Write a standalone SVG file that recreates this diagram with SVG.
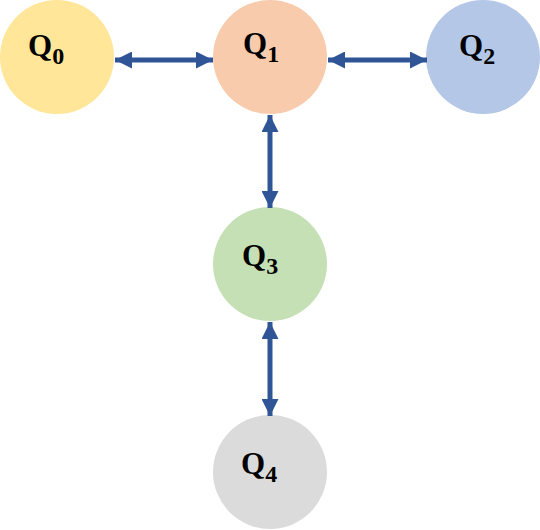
<svg xmlns="http://www.w3.org/2000/svg" width="540" height="530" viewBox="0 0 540 530">
<defs>
<marker id="ah" viewBox="0 0 17 17" refX="17" refY="8.5" markerWidth="17" markerHeight="17" markerUnits="userSpaceOnUse" orient="auto-start-reverse">
<path d="M0,0 L17,8.5 L0,17 Z" fill="#2F5597"/>
</marker>
<style>
.lbl{font-family:"Liberation Serif","DejaVu Serif",serif;font-weight:bold;font-size:31px;fill:#000}
.sub{font-size:24px}
.conn line{stroke:#2F5597;stroke-width:5;marker-start:url(#ah);marker-end:url(#ah)}
</style>
</defs>
<rect width="540" height="530" fill="#fff"/>
<g id="Q0"><circle cx="57" cy="57" r="57" fill="#FFE699"/><text class="lbl" x="28" y="56">Q<tspan class="sub" dy="8">0</tspan></text></g>
<g id="Q1"><circle cx="270" cy="57" r="57" fill="#F8CBAD"/><text class="lbl" x="243" y="54">Q<tspan class="sub" dy="8">1</tspan></text></g>
<g id="Q2"><circle cx="483" cy="57" r="57" fill="#B4C7E7"/><text class="lbl" x="459" y="56">Q<tspan class="sub" dy="8">2</tspan></text></g>
<g id="Q3"><circle cx="270" cy="264" r="57" fill="#C5E0B4"/><text class="lbl" x="242" y="266">Q<tspan class="sub" dy="8">3</tspan></text></g>
<g id="Q4"><circle cx="270" cy="472" r="57" fill="#DBDBDB"/><text class="lbl" x="241" y="474">Q<tspan class="sub" dy="8">4</tspan></text></g>
<g class="conn">
<line x1="115" y1="60" x2="213" y2="60"/>
<line x1="328" y1="60" x2="427" y2="60"/>
<line x1="270" y1="115" x2="270" y2="208"/>
<line x1="270" y1="322" x2="270" y2="416"/>
</g>
</svg>
